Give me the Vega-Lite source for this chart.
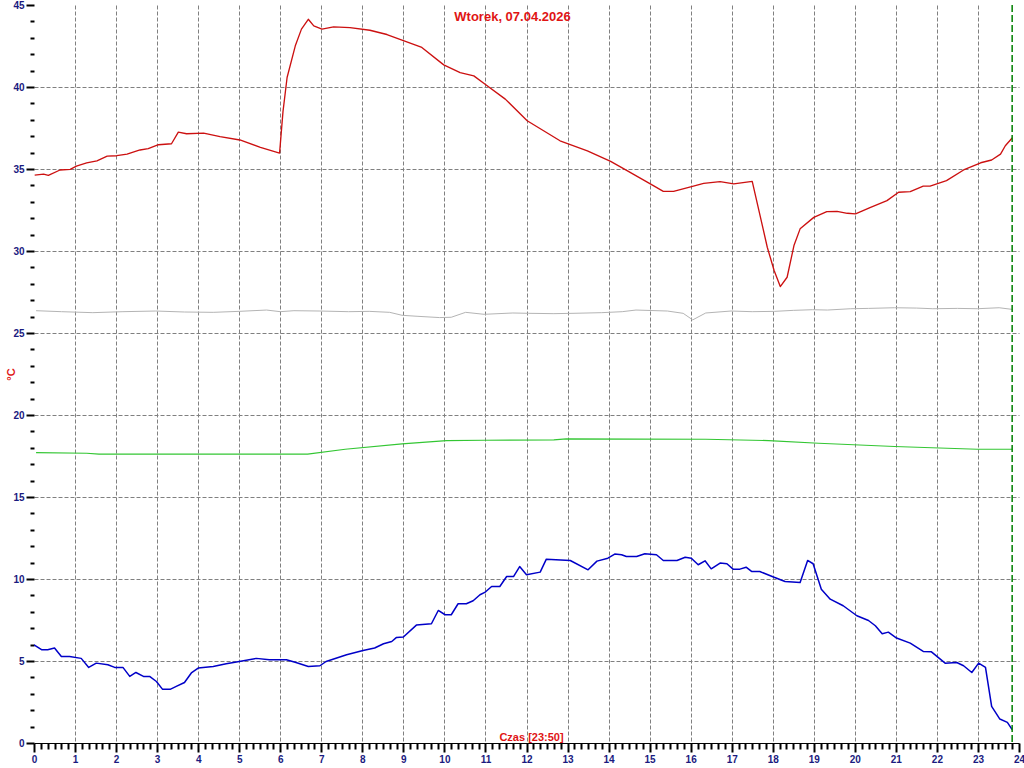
{
  "$schema": "https://vega.github.io/schema/vega-lite/v6.json",
  "width": 985,
  "height": 738,
  "autosize": {"type": "none"},
  "padding": {"left": 34, "top": 5, "right": 5, "bottom": 25},
  "background": "#ffffff",
  "config": {"view": {"stroke": null}, "font": "Liberation Sans"},
  "title": {"text": "Wtorek, 07.04.2026", "color": "#e01414", "fontSize": 13, "fontWeight": "bold", "font": "Liberation Sans", "anchor": "middle", "offset": -24, "dx": -14},
  "layer": [
    {
      "data": {"values": [
        {"s": "red", "t": 1, "v": 34.63}, {"s": "red", "t": 14, "v": 34.69}, {"s": "red", "t": 21, "v": 34.61}, {"s": "red", "t": 38, "v": 34.94}, {"s": "red", "t": 53, "v": 34.98}, {"s": "red", "t": 62, "v": 35.18}, {"s": "red", "t": 77, "v": 35.37}, {"s": "red", "t": 92, "v": 35.5}, {"s": "red", "t": 107, "v": 35.79}, {"s": "red", "t": 121, "v": 35.81}, {"s": "red", "t": 136, "v": 35.91}, {"s": "red", "t": 155, "v": 36.16}, {"s": "red", "t": 167, "v": 36.24}, {"s": "red", "t": 182, "v": 36.48}, {"s": "red", "t": 201, "v": 36.54}, {"s": "red", "t": 211, "v": 37.25}, {"s": "red", "t": 223, "v": 37.15}, {"s": "red", "t": 248, "v": 37.19}, {"s": "red", "t": 272, "v": 36.97}, {"s": "red", "t": 301, "v": 36.77}, {"s": "red", "t": 331, "v": 36.32}, {"s": "red", "t": 359, "v": 35.97}, {"s": "red", "t": 364, "v": 38.5}, {"s": "red", "t": 370, "v": 40.58}, {"s": "red", "t": 382, "v": 42.51}, {"s": "red", "t": 391, "v": 43.53}, {"s": "red", "t": 401, "v": 44.13}, {"s": "red", "t": 409, "v": 43.73}, {"s": "red", "t": 421, "v": 43.53}, {"s": "red", "t": 438, "v": 43.67}, {"s": "red", "t": 462, "v": 43.62}, {"s": "red", "t": 491, "v": 43.46}, {"s": "red", "t": 516, "v": 43.2}, {"s": "red", "t": 541, "v": 42.81}, {"s": "red", "t": 567, "v": 42.41}, {"s": "red", "t": 599, "v": 41.35}, {"s": "red", "t": 623, "v": 40.88}, {"s": "red", "t": 643, "v": 40.68}, {"s": "red", "t": 659, "v": 40.18}, {"s": "red", "t": 689, "v": 39.26}, {"s": "red", "t": 721, "v": 37.94}, {"s": "red", "t": 745, "v": 37.33}, {"s": "red", "t": 769, "v": 36.72}, {"s": "red", "t": 809, "v": 36.11}, {"s": "red", "t": 843, "v": 35.46}, {"s": "red", "t": 867, "v": 34.9}, {"s": "red", "t": 901, "v": 34.09}, {"s": "red", "t": 920, "v": 33.64}, {"s": "red", "t": 935, "v": 33.64}, {"s": "red", "t": 964, "v": 33.96}, {"s": "red", "t": 979, "v": 34.12}, {"s": "red", "t": 1003, "v": 34.23}, {"s": "red", "t": 1023, "v": 34.09}, {"s": "red", "t": 1050, "v": 34.25}, {"s": "red", "t": 1072, "v": 30.23}, {"s": "red", "t": 1082, "v": 28.81}, {"s": "red", "t": 1091, "v": 27.83}, {"s": "red", "t": 1101, "v": 28.4}, {"s": "red", "t": 1111, "v": 30.33}, {"s": "red", "t": 1120, "v": 31.35}, {"s": "red", "t": 1140, "v": 32.05}, {"s": "red", "t": 1159, "v": 32.4}, {"s": "red", "t": 1174, "v": 32.42}, {"s": "red", "t": 1189, "v": 32.3}, {"s": "red", "t": 1201, "v": 32.26}, {"s": "red", "t": 1223, "v": 32.66}, {"s": "red", "t": 1247, "v": 33.07}, {"s": "red", "t": 1264, "v": 33.58}, {"s": "red", "t": 1281, "v": 33.62}, {"s": "red", "t": 1300, "v": 33.96}, {"s": "red", "t": 1310, "v": 33.96}, {"s": "red", "t": 1334, "v": 34.29}, {"s": "red", "t": 1359, "v": 34.94}, {"s": "red", "t": 1384, "v": 35.38}, {"s": "red", "t": 1400, "v": 35.55}, {"s": "red", "t": 1413, "v": 35.91}, {"s": "red", "t": 1420, "v": 36.42}, {"s": "red", "t": 1430, "v": 36.89},
        {"s": "gray", "t": 3, "v": 26.36}, {"s": "gray", "t": 40, "v": 26.3}, {"s": "gray", "t": 86, "v": 26.24}, {"s": "gray", "t": 130, "v": 26.3}, {"s": "gray", "t": 178, "v": 26.34}, {"s": "gray", "t": 220, "v": 26.28}, {"s": "gray", "t": 262, "v": 26.26}, {"s": "gray", "t": 300, "v": 26.32}, {"s": "gray", "t": 340, "v": 26.4}, {"s": "gray", "t": 360, "v": 26.3}, {"s": "gray", "t": 380, "v": 26.36}, {"s": "gray", "t": 418, "v": 26.34}, {"s": "gray", "t": 460, "v": 26.3}, {"s": "gray", "t": 490, "v": 26.32}, {"s": "gray", "t": 520, "v": 26.26}, {"s": "gray", "t": 538, "v": 26.08}, {"s": "gray", "t": 560, "v": 26.02}, {"s": "gray", "t": 593, "v": 25.94}, {"s": "gray", "t": 610, "v": 25.96}, {"s": "gray", "t": 631, "v": 26.26}, {"s": "gray", "t": 658, "v": 26.14}, {"s": "gray", "t": 700, "v": 26.22}, {"s": "gray", "t": 723, "v": 26.2}, {"s": "gray", "t": 760, "v": 26.18}, {"s": "gray", "t": 788, "v": 26.2}, {"s": "gray", "t": 830, "v": 26.24}, {"s": "gray", "t": 860, "v": 26.3}, {"s": "gray", "t": 880, "v": 26.4}, {"s": "gray", "t": 926, "v": 26.34}, {"s": "gray", "t": 949, "v": 26.2}, {"s": "gray", "t": 963, "v": 25.8}, {"s": "gray", "t": 982, "v": 26.22}, {"s": "gray", "t": 1019, "v": 26.34}, {"s": "gray", "t": 1050, "v": 26.3}, {"s": "gray", "t": 1083, "v": 26.32}, {"s": "gray", "t": 1110, "v": 26.38}, {"s": "gray", "t": 1138, "v": 26.42}, {"s": "gray", "t": 1160, "v": 26.4}, {"s": "gray", "t": 1194, "v": 26.48}, {"s": "gray", "t": 1220, "v": 26.5}, {"s": "gray", "t": 1258, "v": 26.54}, {"s": "gray", "t": 1290, "v": 26.52}, {"s": "gray", "t": 1314, "v": 26.48}, {"s": "gray", "t": 1350, "v": 26.5}, {"s": "gray", "t": 1379, "v": 26.48}, {"s": "gray", "t": 1411, "v": 26.54}, {"s": "gray", "t": 1430, "v": 26.44},
        {"s": "green", "t": 3, "v": 17.71}, {"s": "green", "t": 77, "v": 17.67}, {"s": "green", "t": 95, "v": 17.61}, {"s": "green", "t": 400, "v": 17.61}, {"s": "green", "t": 455, "v": 17.91}, {"s": "green", "t": 538, "v": 18.24}, {"s": "green", "t": 603, "v": 18.44}, {"s": "green", "t": 658, "v": 18.46}, {"s": "green", "t": 760, "v": 18.48}, {"s": "green", "t": 778, "v": 18.54}, {"s": "green", "t": 982, "v": 18.52}, {"s": "green", "t": 1074, "v": 18.44}, {"s": "green", "t": 1147, "v": 18.28}, {"s": "green", "t": 1258, "v": 18.08}, {"s": "green", "t": 1379, "v": 17.91}, {"s": "green", "t": 1430, "v": 17.91},
        {"s": "blue", "t": 0, "v": 5.99}, {"s": "blue", "t": 11, "v": 5.69}, {"s": "blue", "t": 20, "v": 5.69}, {"s": "blue", "t": 30, "v": 5.79}, {"s": "blue", "t": 40, "v": 5.28}, {"s": "blue", "t": 52, "v": 5.28}, {"s": "blue", "t": 69, "v": 5.16}, {"s": "blue", "t": 80, "v": 4.61}, {"s": "blue", "t": 91, "v": 4.87}, {"s": "blue", "t": 108, "v": 4.77}, {"s": "blue", "t": 118, "v": 4.61}, {"s": "blue", "t": 130, "v": 4.61}, {"s": "blue", "t": 140, "v": 4.06}, {"s": "blue", "t": 149, "v": 4.3}, {"s": "blue", "t": 160, "v": 4.06}, {"s": "blue", "t": 169, "v": 4.06}, {"s": "blue", "t": 179, "v": 3.75}, {"s": "blue", "t": 188, "v": 3.27}, {"s": "blue", "t": 199, "v": 3.27}, {"s": "blue", "t": 208, "v": 3.45}, {"s": "blue", "t": 220, "v": 3.69}, {"s": "blue", "t": 230, "v": 4.27}, {"s": "blue", "t": 240, "v": 4.57}, {"s": "blue", "t": 262, "v": 4.67}, {"s": "blue", "t": 281, "v": 4.83}, {"s": "blue", "t": 298, "v": 4.95}, {"s": "blue", "t": 325, "v": 5.16}, {"s": "blue", "t": 344, "v": 5.08}, {"s": "blue", "t": 369, "v": 5.08}, {"s": "blue", "t": 383, "v": 4.91}, {"s": "blue", "t": 401, "v": 4.67}, {"s": "blue", "t": 418, "v": 4.71}, {"s": "blue", "t": 427, "v": 4.97}, {"s": "blue", "t": 457, "v": 5.38}, {"s": "blue", "t": 481, "v": 5.64}, {"s": "blue", "t": 498, "v": 5.79}, {"s": "blue", "t": 511, "v": 6.05}, {"s": "blue", "t": 523, "v": 6.19}, {"s": "blue", "t": 530, "v": 6.44}, {"s": "blue", "t": 540, "v": 6.46}, {"s": "blue", "t": 559, "v": 7.19}, {"s": "blue", "t": 581, "v": 7.27}, {"s": "blue", "t": 591, "v": 8.08}, {"s": "blue", "t": 601, "v": 7.82}, {"s": "blue", "t": 610, "v": 7.82}, {"s": "blue", "t": 620, "v": 8.49}, {"s": "blue", "t": 632, "v": 8.49}, {"s": "blue", "t": 642, "v": 8.67}, {"s": "blue", "t": 652, "v": 9.04}, {"s": "blue", "t": 659, "v": 9.18}, {"s": "blue", "t": 669, "v": 9.54}, {"s": "blue", "t": 681, "v": 9.54}, {"s": "blue", "t": 691, "v": 10.15}, {"s": "blue", "t": 701, "v": 10.15}, {"s": "blue", "t": 710, "v": 10.76}, {"s": "blue", "t": 720, "v": 10.26}, {"s": "blue", "t": 740, "v": 10.42}, {"s": "blue", "t": 749, "v": 11.21}, {"s": "blue", "t": 784, "v": 11.13}, {"s": "blue", "t": 810, "v": 10.56}, {"s": "blue", "t": 823, "v": 11.09}, {"s": "blue", "t": 839, "v": 11.27}, {"s": "blue", "t": 849, "v": 11.52}, {"s": "blue", "t": 859, "v": 11.48}, {"s": "blue", "t": 866, "v": 11.37}, {"s": "blue", "t": 881, "v": 11.37}, {"s": "blue", "t": 893, "v": 11.54}, {"s": "blue", "t": 910, "v": 11.48}, {"s": "blue", "t": 920, "v": 11.13}, {"s": "blue", "t": 940, "v": 11.13}, {"s": "blue", "t": 952, "v": 11.33}, {"s": "blue", "t": 961, "v": 11.27}, {"s": "blue", "t": 971, "v": 10.87}, {"s": "blue", "t": 981, "v": 11.11}, {"s": "blue", "t": 990, "v": 10.62}, {"s": "blue", "t": 1003, "v": 10.97}, {"s": "blue", "t": 1013, "v": 10.93}, {"s": "blue", "t": 1022, "v": 10.6}, {"s": "blue", "t": 1032, "v": 10.6}, {"s": "blue", "t": 1041, "v": 10.72}, {"s": "blue", "t": 1049, "v": 10.46}, {"s": "blue", "t": 1061, "v": 10.46}, {"s": "blue", "t": 1081, "v": 10.12}, {"s": "blue", "t": 1098, "v": 9.85}, {"s": "blue", "t": 1120, "v": 9.78}, {"s": "blue", "t": 1131, "v": 11.13}, {"s": "blue", "t": 1139, "v": 10.93}, {"s": "blue", "t": 1151, "v": 9.38}, {"s": "blue", "t": 1164, "v": 8.77}, {"s": "blue", "t": 1183, "v": 8.37}, {"s": "blue", "t": 1203, "v": 7.76}, {"s": "blue", "t": 1220, "v": 7.47}, {"s": "blue", "t": 1230, "v": 7.15}, {"s": "blue", "t": 1240, "v": 6.66}, {"s": "blue", "t": 1249, "v": 6.76}, {"s": "blue", "t": 1261, "v": 6.4}, {"s": "blue", "t": 1281, "v": 6.09}, {"s": "blue", "t": 1300, "v": 5.58}, {"s": "blue", "t": 1312, "v": 5.56}, {"s": "blue", "t": 1332, "v": 4.87}, {"s": "blue", "t": 1349, "v": 4.91}, {"s": "blue", "t": 1359, "v": 4.71}, {"s": "blue", "t": 1371, "v": 4.3}, {"s": "blue", "t": 1381, "v": 4.87}, {"s": "blue", "t": 1391, "v": 4.61}, {"s": "blue", "t": 1400, "v": 2.23}, {"s": "blue", "t": 1412, "v": 1.46}, {"s": "blue", "t": 1423, "v": 1.26}, {"s": "blue", "t": 1430, "v": 0.81}
      ]},
      "mark": {"type": "line", "strokeJoin": "round", "clip": true},
      "encoding": {
        "x": {
          "field": "t", "type": "quantitative",
          "scale": {"domain": [0, 1440], "nice": false, "zero": false},
          "axis": {
            "values": [0,10,20,30,40,50,60,70,80,90,100,110,120,130,140,150,160,170,180,190,200,210,220,230,240,250,260,270,280,290,300,310,320,330,340,350,360,370,380,390,400,410,420,430,440,450,460,470,480,490,500,510,520,530,540,550,560,570,580,590,600,610,620,630,640,650,660,670,680,690,700,710,720,730,740,750,760,770,780,790,800,810,820,830,840,850,860,870,880,890,900,910,920,930,940,950,960,970,980,990,1000,1010,1020,1030,1040,1050,1060,1070,1080,1090,1100,1110,1120,1130,1140,1150,1160,1170,1180,1190,1200,1210,1220,1230,1240,1250,1260,1270,1280,1290,1300,1310,1320,1330,1340,1350,1360,1370,1380,1390,1400,1410,1420,1430,1440],
            "tickCount": 500,
            "labelExpr": "datum.value % 60 === 0 ? '' + (datum.value / 60) : ''",
            "labelOverlap": false,
            "labelFlush": false,
            "labelBound": false,
            "labelFont": "Liberation Sans",
            "labelFontSize": 10,
            "labelFontWeight": "bold",
            "labelColor": "#1a1a80",
            "labelPadding": 2,
            "grid": true,
            "gridColor": "#808080",
            "gridDash": [4, 2],
            "gridWidth": 1,
            "gridOpacity": {"condition": {"test": "datum.value % 60 === 0 && datum.value > 0 && datum.value < 1440", "value": 1}, "value": 0},
            "ticks": true,
            "tickColor": "#000000",
            "tickWidth": 2,
            "tickSize": {"condition": {"test": "datum.value % 60 === 0", "value": 9}, "value": 6},
            "domain": true,
            "domainColor": "#000000",
            "domainWidth": 1,
            "title": "Czas [23:50]",
            "titleColor": "#e01414",
            "titleFont": "Liberation Sans",
            "titleFontSize": 11,
            "titleFontWeight": "bold",
            "titleBaseline": "alphabetic",
            "titleAlign": "center",
            "titleX": 497,
            "titleY": -3
          }
        },
        "y": {
          "field": "v", "type": "quantitative",
          "scale": {"domain": [0, 45], "nice": false, "zero": false},
          "axis": {
            "values": [0,1,2,3,4,5,6,7,8,9,10,11,12,13,14,15,16,17,18,19,20,21,22,23,24,25,26,27,28,29,30,31,32,33,34,35,36,37,38,39,40,41,42,43,44,45],
            "tickCount": 500,
            "labelExpr": "datum.value % 5 === 0 ? '' + datum.value : ''",
            "labelOverlap": false,
            "labelFlush": false,
            "labelBound": false,
            "labelFont": "Liberation Sans",
            "labelFontSize": 10,
            "labelFontWeight": "bold",
            "labelColor": "#1a1a80",
            "labelPadding": 2,
            "grid": true,
            "gridColor": "#808080",
            "gridDash": [4, 2],
            "gridWidth": 1,
            "gridOpacity": {"condition": {"test": "datum.value % 5 === 0 && datum.value > 0 && datum.value < 45", "value": 1}, "value": 0},
            "ticks": true,
            "tickColor": "#000000",
            "tickWidth": 2,
            "tickSize": {"condition": {"test": "datum.value % 5 === 0", "value": 8}, "value": 4},
            "domain": false,
            "title": "°C",
            "titleColor": "#e01414",
            "titleFont": "Liberation Sans",
            "titleFontSize": 11,
            "titleFontWeight": "bold",
            "titleAngle": -90,
            "titleAlign": "center",
            "titleBaseline": "alphabetic",
            "titleX": -20,
            "titleY": 369
          }
        },
        "color": {"field": "s", "type": "nominal", "legend": null,
          "scale": {"domain": ["gray", "green", "red", "blue"], "range": ["#b4b4b4", "#33c633", "#cc1010", "#0000c8"]}},
        "strokeWidth": {"field": "s", "type": "nominal", "legend": null,
          "scale": {"domain": ["gray", "green", "red", "blue"], "range": [1, 1.5, 1.2, 2.8]}}
      }
    },
    {
      "data": {"values": [{"t": 1430}]},
      "mark": {"type": "rule", "color": "#008000", "strokeWidth": 1.5, "strokeDash": [7, 3]},
      "encoding": {"x": {"field": "t", "type": "quantitative"}}
    }
  ]
}
